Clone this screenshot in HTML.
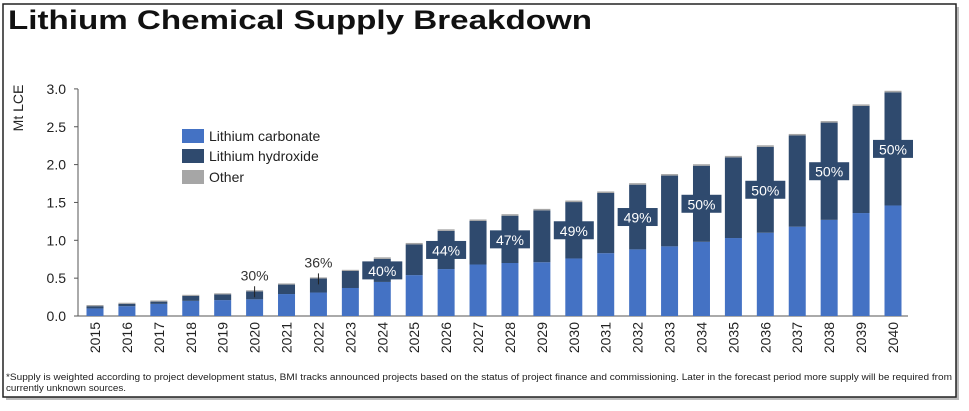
<!DOCTYPE html>
<html><head><meta charset="utf-8"><style>
html,body{margin:0;padding:0;background:#fff;width:969px;height:411px;overflow:hidden}
svg{display:block;font-family:"Liberation Sans",sans-serif}
</style></head><body>
<svg id="chart" width="969" height="411">
  <rect x="6" y="7" width="953" height="393" fill="#bbb"/>
  <rect x="3" y="4" width="953" height="393" fill="#fff" stroke="#222" stroke-width="1.5"/>
  <text x="8" y="29" font-size="27" font-weight="bold" fill="#111" textLength="584" lengthAdjust="spacingAndGlyphs">Lithium Chemical Supply Breakdown</text>
  <text transform="translate(23,108) rotate(-90)" font-size="14" fill="#222" text-anchor="middle">Mt LCE</text>
  <g id="axes"></g>
  <g id="bars"></g>
  <g id="labels"></g>
  <g>
    <rect x="182" y="129" width="22" height="14" fill="#4472c4"/>
    <text x="209" y="141" font-size="14" fill="#222">Lithium carbonate</text>
    <rect x="182" y="149" width="22" height="14" fill="#2f4a6e"/>
    <text x="209" y="161" font-size="14" fill="#222">Lithium hydroxide</text>
    <rect x="182" y="170" width="22" height="14" fill="#a6a6a6"/>
    <text x="209" y="182" font-size="14" fill="#222">Other</text>
  </g>
  <text x="6" y="380" font-size="9" fill="#222" textLength="946" lengthAdjust="spacingAndGlyphs">*Supply is weighted according to project development status, BMI tracks announced projects based on the status of project finance and commissioning. Later in the forecast period more supply will be required from</text>
  <text x="6" y="391" font-size="9" fill="#222" textLength="120" lengthAdjust="spacingAndGlyphs">currently unknown sources.</text>
</svg>
<script>
const years = ["2015","2016","2017","2018","2019","2020","2021","2022","2023","2024","2025","2026","2027","2028","2029","2030","2031","2032","2033","2034","2035","2036","2037","2038","2039","2040"];
const carbonate = [0.10,0.13,0.16,0.20,0.21,0.22,0.29,0.31,0.37,0.45,0.54,0.62,0.68,0.70,0.71,0.76,0.83,0.88,0.92,0.98,1.03,1.10,1.18,1.27,1.36,1.46];
const hydroxide = [0.03,0.03,0.03,0.065,0.075,0.105,0.125,0.185,0.225,0.305,0.405,0.505,0.575,0.625,0.685,0.745,0.795,0.855,0.935,1.005,1.065,1.135,1.205,1.285,1.415,1.495];
const other = [0.015,0.015,0.015,0.015,0.015,0.015,0.015,0.015,0.015,0.02,0.02,0.02,0.02,0.02,0.02,0.02,0.02,0.02,0.02,0.02,0.02,0.02,0.02,0.02,0.02,0.02];
const pctLabels = ["","","","","","30%","","36%","","40%","","44%","","47%","","49%","","49%","","50%","","50%","","50%","","50%"];
const yTicks = [0,0.5,1.0,1.5,2.0,2.5,3.0];

const NS="http://www.w3.org/2000/svg";
const y0=316, pxPerUnit=75.7;
const yScale=v=>y0-v*pxPerUnit;
const xScale=i=>95+i*31.92;
const bw=17;
function mk(tag,attrs,parent){const e=document.createElementNS(NS,tag);for(const k in attrs)e.setAttribute(k,attrs[k]);parent.appendChild(e);return e;}
const axes=document.getElementById('axes'),bars=document.getElementById('bars'),labels=document.getElementById('labels');

let ax=mk('line',{x1:78,y1:89,x2:78,y2:y0,stroke:'#555','stroke-width':1},axes);


let bx=mk('line',{x1:78,y1:y0,x2:908,y2:y0,stroke:'#555','stroke-width':1},axes);


yTicks.forEach(t=>{
  const tk=mk('line',{x1:74,x2:78,y1:yScale(t),y2:yScale(t),stroke:'#555'},axes);
  
  
  const tl=mk('text',{x:66,y:yScale(t)+5,'font-size':14,fill:'#222','text-anchor':'end'},axes);
  tl.textContent=t.toFixed(1);
  
  
});
years.forEach((yr,i)=>{
  const cx=xScale(i);
  const c=carbonate[i],h=hydroxide[i],o=other[i];
  const r1=mk('rect',{x:cx-bw/2,y:yScale(c),width:bw,height:c*pxPerUnit,fill:'#4472c4'},bars);
  
  
  const r2=mk('rect',{x:cx-bw/2,y:yScale(c+h),width:bw,height:h*pxPerUnit,fill:'#2f4a6e'},bars);
  
  
  const r3=mk('rect',{x:cx-bw/2,y:yScale(c+h+o),width:bw,height:o*pxPerUnit,fill:'#a6a6a6'},bars);
  
  
  const xl=mk('text',{transform:`translate(${cx+5},${y0+6}) rotate(-90)`,'font-size':14,fill:'#222','text-anchor':'end'},axes);
  xl.textContent=yr;
  
  
  const p=pctLabels[i];
  if(!p) return;
  const ly=yScale(c+h/2);
  if(i<9){
    const top=yScale(c+h+o);
    const ld=mk('line',{x1:cx,x2:cx,y1:top-4,y2:top+7,stroke:'#222'},labels);
    
    
    const t=mk('text',{x:cx,y:top-10,'font-size':14,fill:'#333','text-anchor':'middle'},labels);
    t.textContent=p;
    
    
  } else {
    const bg=mk('rect',{x:cx-20,y:ly-9,width:40,height:18,fill:'#2f4a6e'},labels);
    
    
    const t=mk('text',{x:cx,y:ly+5.5,'font-size':14,fill:'#fff','text-anchor':'middle'},labels);
    t.textContent=p;
    
    
  }
});
</script>
</body></html>
